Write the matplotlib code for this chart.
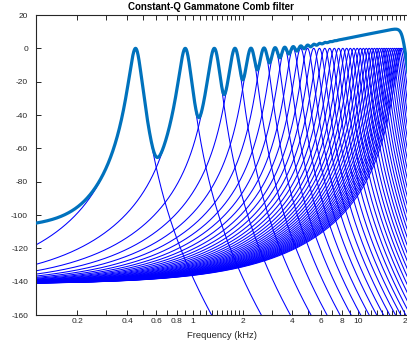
import numpy as np
import matplotlib
matplotlib.use('Agg')
import matplotlib.pyplot as plt
from matplotlib.ticker import FixedLocator, FixedFormatter, NullFormatter

plt.rcParams['font.family'] = ['Liberation Sans', 'DejaVu Sans']
plt.rcParams['axes.unicode_minus'] = False

# centre frequencies of the comb filters (kHz)
centre_khz = [0.45, 0.90, 1.35, 1.80, 2.25, 2.70, 3.15, 3.60, 4.05, 4.50,
              4.95, 5.40, 5.85, 6.30, 6.75, 7.20, 7.65, 8.10, 8.55, 9.00,
              9.45, 9.90, 10.35, 10.80, 11.25, 11.70, 12.15, 12.60, 13.05, 13.50,
              13.95, 14.40, 14.85, 15.30, 15.75, 16.20, 16.65, 17.10, 17.55, 18.00,
              18.45]

# gammatone shape: order and constant Q, plus low-side tail steepening
order = 6
q_factor = 11.4
tail_gain = 0.32
tail_power = 3.5

f_min, f_max = 0.1118, 22.05

major_ticks = [0.2, 0.4, 0.6, 0.8, 1, 2, 4, 6, 8, 10, 20]
major_labels = ['0.2', '0.4', '0.6', '0.8', '1', '2', '4', '6', '8', '10', '20']
minor_ticks = [0.3, 0.5, 0.7, 0.9, 1.1, 1.2, 1.3, 1.4, 1.5, 1.6, 1.7, 1.8, 1.9,
               3, 5, 7, 9, 11, 12, 13, 14, 15, 16, 17, 18, 19]
y_ticks = [-160, -140, -120, -100, -80, -60, -40, -20, 0, 20]


def response_db(f, fc):
    r = f / fc
    x = q_factor * (r - 1)
    low = r < 1
    x[low] *= 1 + tail_gain * (1 - r[low]) ** tail_power
    return -10 * order * np.log10(1 + x ** 2)


f = np.logspace(np.log10(f_min), np.log10(f_max), 4000)

fig = plt.figure(figsize=(4.07, 3.41), dpi=100)
ax = fig.add_axes([35.7 / 407, 26 / 341, (414.6 - 35.7) / 407, 300 / 341])

total = np.zeros_like(f)
for fc in centre_khz:
    db = response_db(f, fc)
    total += 10 ** (db / 20)
    ax.plot(f, db, color='#0000ff', lw=0.75)

ax.plot(f, 20 * np.log10(total), color='#0072bd', lw=2.3, zorder=5)

ax.set_xscale('log')
ax.set_xlim(f_min, f_max)
ax.set_ylim(-160, 20)
ax.xaxis.set_major_locator(FixedLocator(major_ticks))
ax.xaxis.set_major_formatter(FixedFormatter(major_labels))
ax.xaxis.set_minor_locator(FixedLocator(minor_ticks))
ax.xaxis.set_minor_formatter(NullFormatter())
ax.set_yticks(y_ticks)

ax.tick_params(which='both', direction='in', top=True, right=True,
               length=3.5, width=0.7, colors='#262626', labelsize=6)
ax.tick_params(axis='x', pad=2.5)
ax.tick_params(axis='y', pad=5.5)
for s in ax.spines.values():
    s.set_linewidth(0.8)
    s.set_color('#262626')

fig.text(210.5 / 407, 1 - 7.3 / 341, 'Constant-Q Gammatone Comb filter',
         ha='center', va='center', fontsize=7, fontweight='bold')
fig.text(221.7 / 407, 1 - 335.5 / 341, 'Frequency (kHz)',
         ha='center', va='center', fontsize=6.8, color='#262626')

fig.savefig('out.png', dpi=100)
